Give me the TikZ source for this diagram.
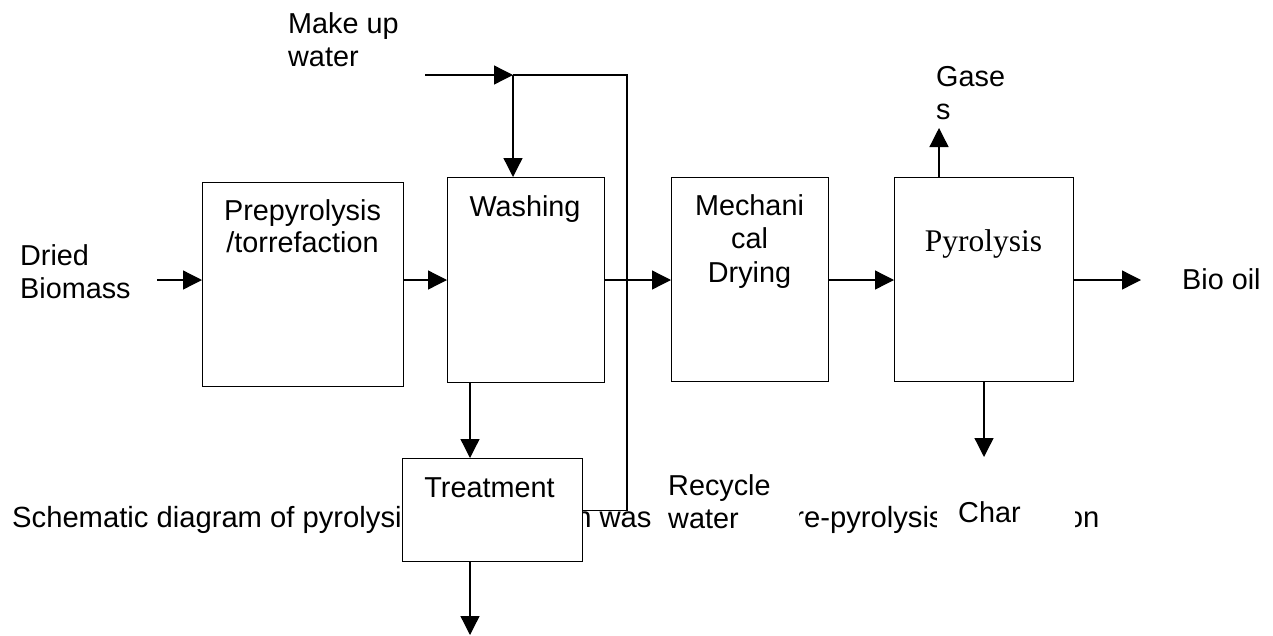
\documentclass[tikz,border=0pt]{standalone}
\usepackage{fontspec}
\setmainfont{Liberation Sans}
\newfontfamily\timesfont{Liberation Serif}
\usetikzlibrary{arrows.meta}
\begin{document}
\begin{tikzpicture}[x=1pt,y=-1pt,
  proc/.style={draw, line width=1.3pt, fill=white, inner sep=0, anchor=north west},
  lbl/.style={inner sep=0, font=\fontsize{28.8}{33}\selectfont},
  flow/.style={line width=1.3pt, -{Triangle[length=19pt,width=19pt]}},
  plain/.style={line width=1.3pt},
  cover/.style={fill=white, inner sep=0, anchor=north west}]
\useasboundingbox (0,0) rectangle (1273,635);

% caption, partly covered by the boxes drawn later
\node[inner sep=0, font=\fontsize{29.2}{33}\selectfont, anchor=base west] (caption) at (12,527) {Schematic diagram of pyrolysis configuration washing as a pre-pyrolysis preparation};

% process boxes
\node[proc, minimum width=201, minimum height=204] (prep) at (202,182) {};
\node[proc, minimum width=157, minimum height=205] (wash) at (447,177) {};
\node[proc, minimum width=157, minimum height=204] (mech) at (671,177) {};
\node[proc, minimum width=179, minimum height=204] (pyro) at (894,177) {};
\node[proc, minimum width=180, minimum height=103] (treat) at (402,458) {};

% box texts
\node[lbl, anchor=base] (preptxt1) at (302.5,220) {Prepyrolysis};
\node[lbl, anchor=base] (preptxt2) at (302.5,252) {/torrefaction};
\node[lbl, anchor=base] (washtxt) at (525,216) {Washing};
\node[lbl, anchor=base] (mechtxt1) at (749.5,215) {Mechani};
\node[lbl, anchor=base] (mechtxt2) at (749.5,248) {cal};
\node[lbl, anchor=base] (mechtxt3) at (749.5,282) {Drying};
\node[inner sep=0, font=\timesfont\fontsize{31.5}{36}\selectfont, anchor=base] (pyrotxt) at (983.5,251) {Pyrolysis};
\node[lbl, anchor=base] (treattxt) at (489.5,497) {Treatment};

% free labels
\node[lbl, anchor=base west] (mk1) at (288,33) {Make up};
\node[lbl, anchor=base west] (mk2) at (288,66) {water};
\node[lbl, anchor=base west] (dried1) at (20,265) {Dried};
\node[lbl, anchor=base west] (dried2) at (20,298) {Biomass};
\node[lbl, anchor=base west] (gas1) at (936,86) {Gase};
\node[lbl, anchor=base west] (gas2) at (936,119) {s};
\node[lbl, anchor=base west] (bio) at (1182,289) {Bio oil};

\node[cover, minimum width=147, minimum height=70] (recyclebg) at (652,470) {};
\node[lbl, anchor=base west] (rec1) at (668,495) {Recycle};
\node[lbl, anchor=base west] (rec2) at (668,528) {water};

\node[cover, minimum width=138, minimum height=70] (charbg) at (937,470) {};
\node[lbl, anchor=base west] (char) at (958,522) {Char};

% connector end points
\coordinate (mkstart) at (425,75);
\coordinate (junc) at (513,75);
\coordinate (rtop) at (627,75);
\coordinate (feed) at (157,280);
\coordinate (biotip) at (1141,280);
\coordinate (gastip) at (939,128);
\coordinate (chartip) at (984,457);
\coordinate (waste) at (470,635);

% connectors
\draw[flow] (feed) -- (feed -| prep.west);
\draw[flow] (prep.east |- feed) -- (wash.west |- feed);
\draw[flow] (wash.east |- feed) -- (mech.west |- feed);
\draw[flow] (mech.east |- feed) -- (pyro.west |- feed);
\draw[flow] (pyro.east |- feed) -- (biotip);
\draw[flow] (gastip |- pyro.north) -- (gastip);
\draw[flow] (chartip |- pyro.south) -- (chartip);
\draw[flow] (waste |- wash.south) -- (waste |- treat.north);
\draw[flow] (waste |- treat.south) -- (waste);
\draw[plain] (treat.east) -| (rtop) -- (junc);
\draw[flow] (mkstart) -- (junc);
\draw[flow] (junc) -- (junc |- wash.north);
\end{tikzpicture}
\end{document}
